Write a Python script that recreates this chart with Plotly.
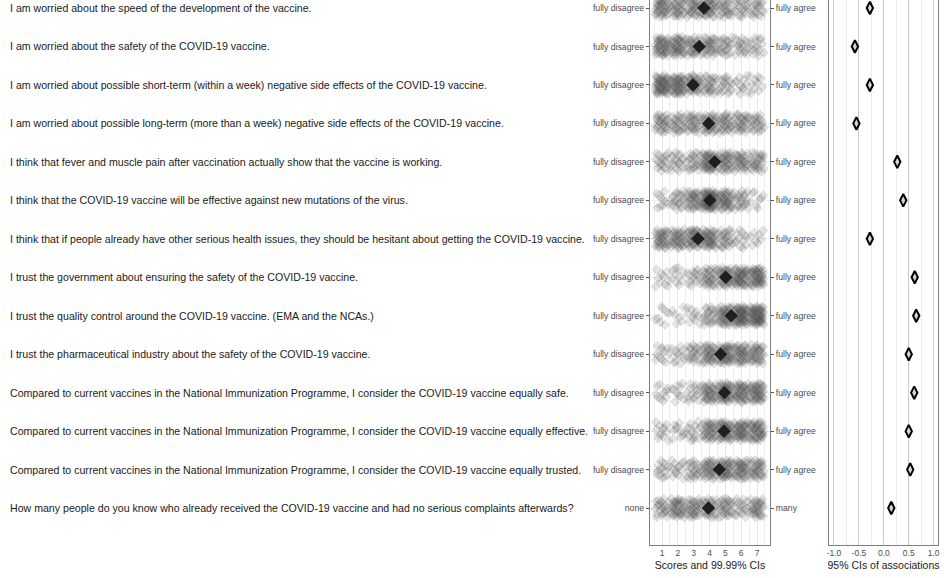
import plotly.graph_objects as go

# ---------------- data ----------------
items = [
    "I am worried about the speed of the development of the vaccine.",
    "I am worried about the safety of the COVID-19 vaccine.",
    "I am worried about possible short-term (within a week) negative side effects of the COVID-19 vaccine.",
    "I am worried about possible long-term (more than a week) negative side effects of the COVID-19 vaccine.",
    "I think that fever and muscle pain after vaccination actually show that the vaccine is working.",
    "I think that the COVID-19 vaccine will be effective against new mutations of the virus.",
    "I think that if people already have other serious health issues, they should be hesitant about getting the COVID-19 vaccine.",
    "I trust the government about ensuring the safety of the COVID-19 vaccine.",
    "I trust the quality control around the COVID-19 vaccine. (EMA and the NCAs.)",
    "I trust the pharmaceutical industry about the safety of the COVID-19 vaccine.",
    "Compared to current vaccines in the National Immunization Programme, I consider the COVID-19 vaccine equally safe.",
    "Compared to current vaccines in the National Immunization Programme, I consider the COVID-19 vaccine equally effective.",
    "Compared to current vaccines in the National Immunization Programme, I consider the COVID-19 vaccine equally trusted.",
    "How many people do you know who already received the COVID-19 vaccine and had no serious complaints afterwards?",
]
left_anchors = ["fully disagree"] * 13 + ["none"]
right_anchors = ["fully agree"] * 13 + ["many"]

scores = [1, 2, 3, 4, 5, 6, 7]
# estimated number of respondents per score (1..7) for each item
counts = [
    [35, 30, 30, 35, 25, 20, 20],
    [40, 40, 30, 30, 22, 18, 15],
    [50, 45, 35, 25, 18, 12, 10],
    [28, 25, 28, 35, 30, 28, 22],
    [18, 18, 22, 45, 35, 30, 27],
    [10, 20, 35, 60, 40, 22, 8],
    [35, 35, 40, 40, 25, 12, 8],
    [10, 10, 15, 30, 40, 45, 45],
    [8, 6, 10, 22, 40, 55, 55],
    [12, 12, 22, 35, 45, 38, 33],
    [10, 10, 15, 35, 45, 40, 42],
    [12, 10, 15, 35, 45, 42, 42],
    [14, 14, 22, 35, 40, 38, 32],
    [22, 35, 32, 30, 28, 18, 30],
]
# estimated associations (point estimates)
associations = [-0.28, -0.58, -0.28, -0.55, 0.27, 0.39, -0.28,
                0.62, 0.65, 0.50, 0.61, 0.50, 0.53, 0.15]

x_ticks = [1, 2, 3, 4, 5, 6, 7]
assoc_ticks = [-1.0, -0.5, 0.0, 0.5, 1.0]
assoc_tick_labels = ["-1.0", "-0.5", "0.0", "0.5", "1.0"]

# ---------------- build ----------------
def halton(i, b):
    f, r = 1.0, 0.0
    while i > 0:
        f /= b
        r += f * (i % b)
        i //= b
    return r

rows = list(range(len(items)))
px, py = [], []
means = []
idx = 1
for r, cnt in zip(rows, counts):
    tot = 0
    wsum = 0
    for s, c in zip(scores, cnt):
        tot += c
        wsum += s * c
        for k in range(c):
            # display jitter (like geom_jitter), deterministic
            px.append(s + (halton(idx, 2) - 0.5) * 0.86)
            py.append(r + (halton(idx, 3) - 0.5) * 0.5)
            idx += 1
    means.append(wsum / tot)

FONT = "Liberation Sans, Arial, sans-serif"
W, H = 944, 578
yrange = [13.96, -0.208]
ydom = [(H - 545) / H, 1.0]

fig = go.Figure()
fig.add_trace(go.Scatter(
    x=px, y=py, mode="markers", xaxis="x", yaxis="y", hoverinfo="skip",
    marker=dict(symbol="diamond", size=7, color="rgba(70,70,70,0.14)",
                line=dict(color="rgba(70,70,70,0.13)", width=1)),
    showlegend=False))
fig.add_trace(go.Scatter(
    x=means, y=rows, mode="markers", xaxis="x", yaxis="y",
    marker=dict(symbol="diamond", size=9, color="#1f1f1f",
                line=dict(color="#1f1f1f", width=1.2)),
    showlegend=False))
# invisible trace to carry the right-hand anchor axis
fig.add_trace(go.Scatter(x=[None], y=[None], xaxis="x", yaxis="y2",
                         mode="markers", showlegend=False, hoverinfo="skip"))
fig.add_trace(go.Scatter(
    x=associations, y=rows, mode="markers", xaxis="x2", yaxis="y3",
    marker=dict(symbol="diamond-tall", size=9, color="#d6d6d6",
                line=dict(color="#000000", width=2)),
    showlegend=False))

for r, t in zip(rows, items):
    fig.add_annotation(x=8 / W, xref="paper", y=r, yref="y", text=t,
                       showarrow=False, xanchor="left", yanchor="middle",
                       font=dict(family=FONT, size=10.6, color="#1a1a1a"))

axis_line = dict(showline=True, linecolor="#7f7f7f", linewidth=1.3, mirror=True,
                 automargin=False)

fig.update_layout(
    width=W, height=H, margin=dict(l=0, r=0, t=0, b=0, pad=0, autoexpand=False),
    paper_bgcolor="white", plot_bgcolor="white",
    font=dict(family=FONT),
    xaxis=dict(domain=[650 / W, 770 / W], range=[0.24, 7.82], anchor="y",
               tickvals=x_ticks, ticks="", zeroline=False,
               tickfont=dict(size=8.5, color="#4d4d4d"),
               showgrid=True, gridcolor="#e6e6e6", gridwidth=1,
               minor=dict(dtick=0.5, tick0=0.5, showgrid=True, gridcolor="#ececec"),
               title=dict(text="Scores and 99.99% CIs", standoff=4,
                          font=dict(size=10.5, color="#1a1a1a")),
               **axis_line),
    yaxis=dict(domain=ydom, range=yrange, anchor="x",
               tickvals=rows, ticktext=left_anchors, ticks="outside", ticklen=3,
               tickcolor="#555555", tickfont=dict(size=8.7, color="#4d4d4d"),
               showgrid=True, gridcolor="#efefef", zeroline=False, **axis_line),
    yaxis2=dict(domain=ydom, range=yrange, anchor="x", overlaying="y", side="right",
                tickvals=rows, ticktext=right_anchors, ticks="outside", ticklen=3,
                tickcolor="#555555", tickfont=dict(size=8.7, color="#4d4d4d"),
                showgrid=False, zeroline=False, automargin=False),
    xaxis2=dict(domain=[829 / W, 938 / W], range=[-1.1, 1.087], anchor="y3",
                tickvals=assoc_ticks, ticktext=assoc_tick_labels, ticks="",
                zeroline=False, tickfont=dict(size=8.5, color="#4d4d4d"),
                showgrid=True, gridcolor="#cccccc",
                minor=dict(dtick=0.25, tick0=0, showgrid=True, gridcolor="#ececec"),
                title=dict(text="95% CIs of associations", standoff=4,
                           font=dict(size=10.5, color="#1a1a1a")),
                **axis_line),
    yaxis3=dict(domain=ydom, range=yrange, anchor="x2", showticklabels=False,
                ticks="", showgrid=False, zeroline=False, **axis_line),
)

fig.write_html("out.html", config={"displayModeBar": False},
               post_script="document.body.style.margin='0';document.body.style.overflow='hidden';")
